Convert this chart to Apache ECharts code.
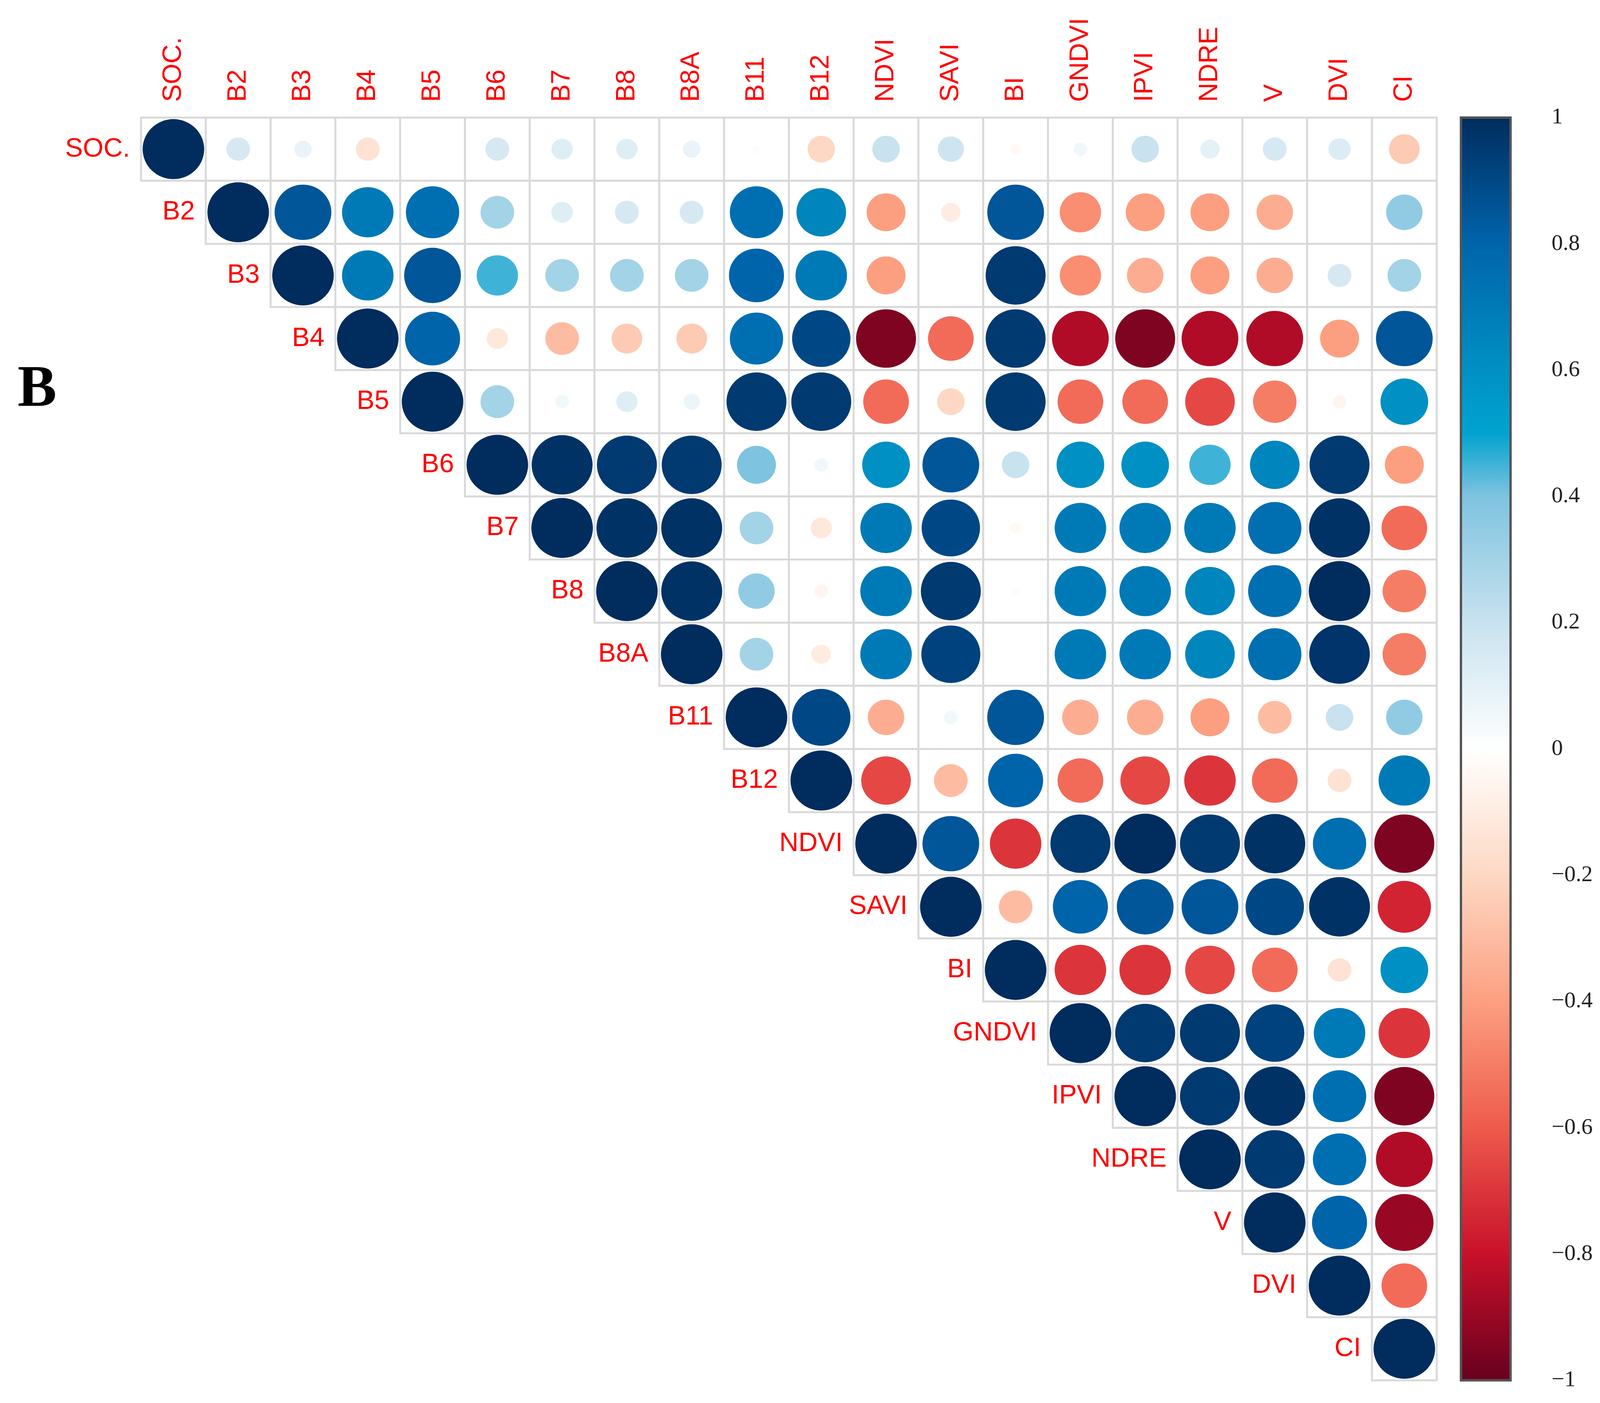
<!DOCTYPE html>
<html><head><meta charset="utf-8">
<script src="https://cdn.jsdelivr.net/npm/echarts@6/dist/echarts.min.js"></script>
<style>html,body{margin:0;padding:0;background:#fff}#c{width:4105px;height:3592px}</style>
</head><body><div id="c"></div>
<script>
// variables, in plot order
const names = ['SOC.', 'B2', 'B3', 'B4', 'B5', 'B6', 'B7', 'B8', 'B8A', 'B11', 'B12',
  'NDVI', 'SAVI', 'BI', 'GNDVI', 'IPVI', 'NDRE', 'V', 'DVI', 'CI']

// upper triangle, row i starts at the diagonal
const rows = [
  [1, 0.15, 0.08, -0.15, 0, 0.15, 0.12, 0.12, 0.08, -0.02, -0.2, 0.2, 0.18, -0.03, 0.05, 0.2, 0.1, 0.15, 0.13, -0.25],
  [1, 0.85, 0.7, 0.75, 0.3, 0.12, 0.15, 0.15, 0.75, 0.65, -0.4, -0.1, 0.85, -0.45, -0.4, -0.4, -0.35, 0, 0.35],
  [1, 0.7, 0.85, 0.45, 0.3, 0.3, 0.3, 0.8, 0.7, -0.4, 0, 0.95, -0.45, -0.35, -0.4, -0.35, 0.15, 0.3],
  [1, 0.8, -0.12, -0.3, -0.25, -0.25, 0.75, 0.9, -0.95, -0.55, 0.95, -0.85, -0.95, -0.85, -0.85, -0.4, 0.85],
  [1, 0.3, 0.05, 0.12, 0.07, 0.95, 0.95, -0.55, -0.2, 0.95, -0.55, -0.55, -0.65, -0.5, -0.05, 0.6],
  [1, 0.98, 0.95, 0.95, 0.4, 0.05, 0.6, 0.85, 0.2, 0.6, 0.6, 0.45, 0.65, 0.95, -0.4],
  [1, 0.98, 0.98, 0.3, -0.12, 0.7, 0.9, -0.03, 0.7, 0.7, 0.7, 0.75, 0.98, -0.55],
  [1, 0.98, 0.35, -0.05, 0.7, 0.95, -0.02, 0.7, 0.7, 0.65, 0.75, 1, -0.5],
  [1, 0.3, -0.1, 0.7, 0.92, 0, 0.7, 0.7, 0.65, 0.75, 0.97, -0.5],
  [1, 0.9, -0.35, 0.05, 0.85, -0.35, -0.35, -0.4, -0.3, 0.2, 0.35],
  [1, -0.65, -0.3, 0.8, -0.55, -0.65, -0.7, -0.55, -0.15, 0.7],
  [1, 0.85, -0.7, 0.95, 1, 0.95, 0.98, 0.75, -0.95],
  [1, -0.3, 0.8, 0.85, 0.85, 0.9, 0.98, -0.75],
  [1, -0.7, -0.7, -0.65, -0.55, -0.15, 0.6],
  [1, 0.95, 0.95, 0.92, 0.7, -0.7],
  [1, 0.95, 0.98, 0.75, -0.95],
  [1, 0.95, 0.75, -0.85],
  [1, 0.8, -0.9],
  [1, -0.55],
  [1]
]

// colour bar
const stopVals = [-1, -0.8, -0.6, -0.4, -0.2, 0, 0.2, 0.4, 0.5, 0.6, 0.8, 1]
const stopCols = ['#67001F', '#C8102A', '#EE5A4C', '#FC9F80', '#FDD8C4', '#FFFFFF',
  '#C8E2EF', '#7EC3DF', '#00A3CF', '#0090C3', '#0064AB', '#002C5E']

function hex(c) { return [1, 3, 5].map(i => parseInt(c.slice(i, i + 2), 16)) }
function colorOf(v) {
  for (let k = 0; k < stopVals.length - 1; k++) {
    if (v <= stopVals[k + 1]) {
      const t = (v - stopVals[k]) / (stopVals[k + 1] - stopVals[k])
      const a = hex(stopCols[k]), b = hex(stopCols[k + 1])
      return 'rgb(' + a.map((x, j) => Math.round(x + (b[j] - x) * t)).join(',') + ')'
    }
  }
  return stopCols[stopCols.length - 1]
}

const cells = []
rows.forEach((r, i) => r.forEach((v, k) => cells.push([i + k, i, v])))

const labelFont = '"Liberation Sans", Arial, sans-serif'
const chart = echarts.init(document.getElementById('c'))
chart.setOption({
  animation: false,
  grid: [
    { left: 361, top: 301, width: 3317, height: 3233 },
    { left: 3740, top: 301, width: 127, height: 3233 }
  ],
  xAxis: [
    { gridIndex: 0, type: 'value', min: 0, max: 20, show: false },
    { gridIndex: 1, type: 'value', min: 0, max: 1, show: false }
  ],
  yAxis: [
    { gridIndex: 0, type: 'value', min: 0, max: 20, inverse: true, show: false },
    {
      gridIndex: 1, type: 'value', min: -1, max: 1, interval: 0.2, position: 'right',
      axisLine: { show: false }, splitLine: { show: false },
      axisTick: { show: true, length: 26, lineStyle: { color: '#444', width: 3 } },
      axisLabel: {
        margin: 105, fontFamily: '"Liberation Serif", serif', fontSize: 58, color: '#222',
        formatter: v => (Math.abs(v) < 1e-9 ? '0' : (v < 0 ? '\u2212' : '') + String(Math.round(Math.abs(v) * 10) / 10))
      }
    }
  ],
  graphic: [{
    type: 'text', left: 45, top: 925,
    style: { text: 'B', font: 'bold 150px "Liberation Serif", serif', fill: '#000' }
  }],
  series: [
    {
      type: 'custom', xAxisIndex: 0, yAxisIndex: 0, data: cells,
      renderItem: (params, api) => {
        const col = api.value(0), row = api.value(1), v = api.value(2)
        const p0 = api.coord([col, row]), p1 = api.coord([col + 1, row + 1])
        const w = p1[0] - p0[0], h = p1[1] - p0[1]
        const ch = [
          { type: 'rect', shape: { x: p0[0], y: p0[1], width: w, height: h },
            style: { fill: '#fff', stroke: '#D9D9D9', lineWidth: 5 } },
          { type: 'group', x: p0[0] + w / 2, y: p0[1] + h / 2, scaleX: w / h, children: [
            { type: 'circle', shape: { cx: 0, cy: 0, r: 0.475 * h * Math.sqrt(Math.abs(v)) },
              style: { fill: colorOf(v) } }] }
        ]
        if (col === row) {
          ch.push({ type: 'text', x: p0[0] - 28, y: p0[1] + h / 2,
            style: { text: names[row], font: '68px ' + labelFont, fill: '#FF0000', align: 'right', verticalAlign: 'middle' } })
        }
        if (row === 0) {
          ch.push({ type: 'text', x: p0[0] + w / 2, y: p0[1] - 40, rotation: Math.PI / 2,
            style: { text: names[col], font: '68px ' + labelFont, fill: '#FF0000', align: 'left', verticalAlign: 'middle' } })
        }
        return { type: 'group', children: ch }
      }
    },
    {
      type: 'custom', xAxisIndex: 1, yAxisIndex: 1, data: [[0, 1]],
      renderItem: (params, api) => {
        const a = api.coord([0, 1]), b = api.coord([1, -1])
        return {
          type: 'rect', shape: { x: a[0], y: a[1], width: b[0] - a[0], height: b[1] - a[1] },
          style: {
            fill: new echarts.graphic.LinearGradient(0, 0, 0, 1,
              stopVals.map((s, k) => ({ offset: (1 - s) / 2, color: stopCols[k] })).reverse()),
            stroke: '#555', lineWidth: 6
          }
        }
      }
    }
  ]
})
</script></body></html>
